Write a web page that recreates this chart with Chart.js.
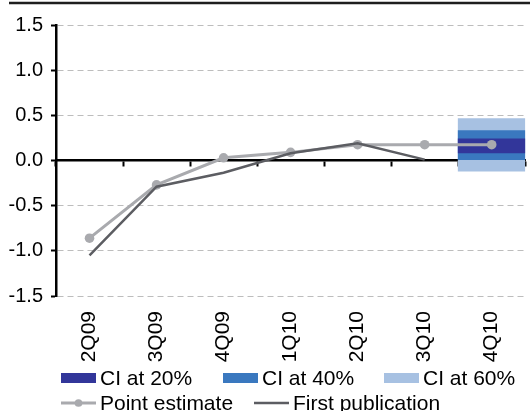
<!DOCTYPE html>
<html>
<head>
<meta charset="utf-8">
<script src="https://cdn.jsdelivr.net/npm/chart.js@4/dist/chart.umd.min.js"></script>
<style>
  html, body { margin: 0; padding: 0; background: #ffffff; }
  #c { display: block; }
</style>
</head>
<body>
<canvas id="c" width="530" height="411"></canvas>
<script>
// Quarterly growth: point estimate, first published figure and confidence bands
const quarters = ['2Q09', '3Q09', '4Q09', '1Q10', '2Q10', '3Q10', '4Q10'];
const pointEstimate = [-0.86, -0.27, 0.03, 0.09, 0.175, 0.175, 0.175];
const firstPublication = [-1.05, -0.29, -0.135, 0.08, 0.19, 0.01, null];
// confidence intervals around the latest quarter [low, high]
const ci20 = [0.085, 0.24];
const ci40 = [0.01, 0.332];
const ci60 = [-0.118, 0.465];
const ciQuarter = '4Q10';
const yMin = -1.5, yMax = 1.5, yStep = 0.5;

const COLORS = {
  ci20: '#32369a',
  ci40: '#3a78bf',
  ci60: '#a7c1e2',
  point: '#a9aaae',
  first: '#5c5d62'
};
const FAMILY = '"Liberation Sans", Arial, sans-serif';
const Y_FONT = { family: FAMILY, size: 20 };
const X_FONT = { family: FAMILY, size: 21 };
const LEGEND_FONT_SIZE = 21;

function bandData(range) {
  return quarters.map(q => (q === ciQuarter ? range : null));
}

// Legend drawn under the plot, two rows
const legendLayout = {
  rows: [
    { y: 378, items: [{ ds: 2, x: 61 }, { ds: 3, x: 223 }, { ds: 4, x: 384 }] },
    { y: 403, items: [{ ds: 1, x: 61 }, { ds: 0, x: 254 }] }
  ],
  markerWidth: 35,
  boxHeight: 10,
  gap: 4
};

const decorations = {
  id: 'decorations',
  afterDraw(chart) {
    const ctx = chart.ctx;
    ctx.save();
    // heavy rule along the top edge
    ctx.strokeStyle = '#1e1e1e';
    ctx.lineWidth = 2.5;
    ctx.beginPath();
    ctx.moveTo(9, 3);
    ctx.lineTo(chart.width, 3);
    ctx.stroke();

    ctx.font = LEGEND_FONT_SIZE + 'px ' + FAMILY;
    ctx.textBaseline = 'middle';
    ctx.textAlign = 'left';
    const L = legendLayout;
    L.rows.forEach(row => {
      row.items.forEach(it => {
        const ds = chart.data.datasets[it.ds];
        const x = it.x, y = row.y;
        if (ds.type === 'line') {
          ctx.strokeStyle = ds.borderColor;
          ctx.lineWidth = ds.borderWidth;
          ctx.beginPath();
          ctx.moveTo(x, y);
          ctx.lineTo(x + L.markerWidth, y);
          ctx.stroke();
          if (ds.pointRadius > 0) {
            ctx.fillStyle = ds.pointBackgroundColor;
            ctx.beginPath();
            ctx.arc(x + L.markerWidth / 2, y, ds.pointRadius * 0.8, 0, Math.PI * 2);
            ctx.fill();
          }
        } else {
          ctx.fillStyle = ds.backgroundColor;
          ctx.fillRect(x, y - L.boxHeight / 2, L.markerWidth, L.boxHeight);
        }
        ctx.fillStyle = '#000';
        ctx.fillText(ds.label, x + L.markerWidth + L.gap, y + 1);
      });
    });
    ctx.restore();
  }
};

new Chart(document.getElementById('c'), {
  type: 'bar',
  data: {
    labels: quarters,
    datasets: [
      {
        type: 'line', label: 'First publication', data: firstPublication,
        borderColor: COLORS.first, backgroundColor: COLORS.first,
        borderWidth: 2.5, pointRadius: 0, tension: 0, order: 0, spanGaps: false
      },
      {
        type: 'line', label: 'Point estimate', data: pointEstimate,
        borderColor: COLORS.point, backgroundColor: COLORS.point,
        pointBackgroundColor: COLORS.point, pointBorderWidth: 0,
        borderWidth: 3, pointRadius: 4.8, tension: 0, order: 1
      },
      {
        label: 'CI at 20%', data: bandData(ci20), backgroundColor: COLORS.ci20,
        barPercentage: 1, categoryPercentage: 1, grouped: false, order: 2
      },
      {
        label: 'CI at 40%', data: bandData(ci40), backgroundColor: COLORS.ci40,
        barPercentage: 1, categoryPercentage: 1, grouped: false, order: 3
      },
      {
        label: 'CI at 60%', data: bandData(ci60), backgroundColor: COLORS.ci60,
        barPercentage: 1, categoryPercentage: 1, grouped: false, order: 4
      }
    ]
  },
  options: {
    responsive: false,
    animation: false,
    devicePixelRatio: 1,
    layout: { padding: { left: 0, right: 1, top: 25, bottom: 40 } },
    plugins: {
      legend: { display: false },
      tooltip: { enabled: false }
    },
    scales: {
      x: {
        type: 'category',
        offset: true,
        grid: { display: false, drawTicks: false },
        border: { display: false },
        ticks: { minRotation: 90, maxRotation: 90, padding: 15, color: '#000', font: X_FONT },
        afterFit: s => { s.height = 75; s.paddingRight = 0; s.paddingLeft = 0; }
      },
      zeroAxis: {
        type: 'category',
        axis: 'x',
        position: { y: 0 },
        offset: true,
        z: 1,
        ticks: { display: false },
        grid: {
          offset: true, drawOnChartArea: false, drawTicks: true,
          tickLength: 5, tickWidth: 2, tickColor: '#000', color: '#000'
        },
        border: { color: '#000', width: 2.5 },
        afterFit: s => { s.height = 0; }
      },
      y: {
        min: yMin, max: yMax,
        ticks: {
          stepSize: yStep, padding: 8, color: '#000', font: Y_FONT,
          callback: v => Number(v).toFixed(1)
        },
        grid: {
          color: c => (c.tick && c.tick.value === 0 ? 'rgba(0,0,0,0)' : '#bdbdbd'),
          lineWidth: 1, tickColor: '#000', tickLength: 5, tickWidth: 2
        },
        border: { color: '#000', width: 2.5, dash: [6, 4] },
        afterFit: s => { s.width = 56; }
      }
    }
  },
  plugins: [decorations]
});
</script>
</body>
</html>
